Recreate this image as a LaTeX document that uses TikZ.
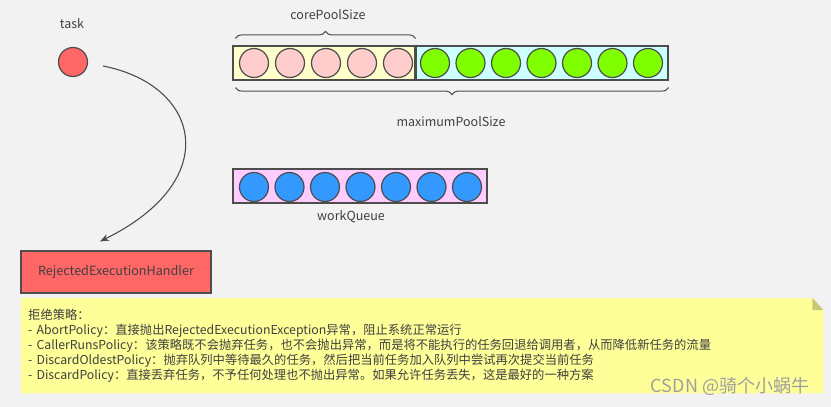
\documentclass[tikz,border=0pt]{standalone}
\usepackage{fontspec}
\setmainfont{Noto Sans CJK SC}
\usepackage{tikz}
\usetikzlibrary{arrows.meta,positioning,calc,decorations.pathreplacing,backgrounds}

\definecolor{bggray}{HTML}{F2F2F2}
\definecolor{linegray}{HTML}{4D4D4D}
\definecolor{textgray}{HTML}{404040}
\definecolor{taskred}{HTML}{FF6666}
\definecolor{coreyellow}{HTML}{FFFFCC}
\definecolor{corepink}{HTML}{FFCCCC}
\definecolor{maxcyan}{HTML}{CCFFFF}
\definecolor{maxgreen}{HTML}{80FF00}
\definecolor{queuepink}{HTML}{FFCCFF}
\definecolor{queueblue}{HTML}{3399FF}
\definecolor{noteyellow}{HTML}{FFFF99}
\definecolor{notefold}{HTML}{C8C87A}

\begin{document}
\begin{tikzpicture}[x=1pt, y=-1pt,
    every node/.style={text=textgray, font=\fontsize{12.5}{14}\selectfont},
    ball/.style={circle, draw=linegray, line width=1.2pt, minimum size=29pt, inner sep=0pt},
    pool/.style={rectangle, draw=linegray, line width=1.2pt, minimum height=34pt, inner sep=0pt},
    brace/.style={decorate, decoration={brace, amplitude=7pt}, draw=linegray, line width=1pt},
    handler/.style={rectangle, draw=linegray, line width=1.2pt, fill=taskred, minimum width=190pt, minimum height=42pt, font=\fontsize{12.6}{14}\selectfont},
    note/.style={rectangle, anchor=north west, minimum width=802pt, minimum height=95pt, inner xsep=7pt, text width=788pt, align=left, font=\fontsize{12.3}{15}\selectfont}]

    \useasboundingbox (0,0) rectangle (831,407);

    % Task and handler
    \node (tasklabel) at (72,24) {task};
    \node[ball, fill=taskred] (task) at (73,62) {};
    \node[handler] (handler) at (116,272) {RejectedExecutionHandler};

    % Thread pool
    \node[pool, fill=coreyellow, minimum width=182pt] (core) at (324,63) {};
    \node[pool, fill=maxcyan, minimum width=252pt] (max) at (542,63) {};

    \begin{scope}[node distance=36pt]
    \node[ball, fill=corepink] (c1) at (254,63) {};
    \node[ball, fill=corepink] (c2) [right of=c1] {};
    \node[ball, fill=corepink] (c3) [right of=c2] {};
    \node[ball, fill=corepink] (c4) [right of=c3] {};
    \node[ball, fill=corepink] (c5) [right of=c4] {};
    \end{scope}

    \begin{scope}[node distance=35.5pt]
    \node[ball, fill=maxgreen] (m1) at (435,63) {};
    \node[ball, fill=maxgreen] (m2) [right of=m1] {};
    \node[ball, fill=maxgreen] (m3) [right of=m2] {};
    \node[ball, fill=maxgreen] (m4) [right of=m3] {};
    \node[ball, fill=maxgreen] (m5) [right of=m4] {};
    \node[ball, fill=maxgreen] (m6) [right of=m5] {};
    \node[ball, fill=maxgreen] (m7) [right of=m6] {};
    \end{scope}

    % Braces
    \draw[brace] ([xshift=3pt,yshift=7pt]core.north west) -- ([yshift=7pt]core.north east);
    \node (coresize) at (328,15) {corePoolSize};
    \draw[brace] ([yshift=-7pt]max.south east) -- ([xshift=3pt,yshift=-7pt]core.south west);
    \node (maxsize) at (451,122) {maximumPoolSize};

    % Work queue
    \node[pool, fill=queuepink, minimum width=254pt] (queue) at (360,186) {};
    \begin{scope}[node distance=35.5pt]
    \node[ball, fill=queueblue] (q1) at (254,187) {};
    \node[ball, fill=queueblue] (q2) [right of=q1] {};
    \node[ball, fill=queueblue] (q3) [right of=q2] {};
    \node[ball, fill=queueblue] (q4) [right of=q3] {};
    \node[ball, fill=queueblue] (q5) [right of=q4] {};
    \node[ball, fill=queueblue] (q6) [right of=q5] {};
    \node[ball, fill=queueblue] (q7) [right of=q6] {};
    \end{scope}
    \node (queuelabel) at (351,217) {workQueue};

    % Rejection
    \draw[-{Stealth[length=9pt,width=7pt]}, draw=linegray, line width=1.1pt]
        ([xshift=15pt,yshift=-4pt]task.east) .. controls (200,85) and (225,180) .. ([xshift=-16pt,yshift=9pt]handler.north);

    % Policies
    \node[note] (policies) at (21,298) {拒绝策略：\\
    - AbortPolicy：直接抛出RejectedExecutionException异常，阻止系统正常运行\\
    - CallerRunsPolicy：该策略既不会抛弃任务，也不会抛出异常，而是将不能执行的任务回退给调用者，从而降低新任务的流量\\
    - DiscardOldestPolicy：抛弃队列中等待最久的任务，然后把当前任务加入队列中尝试再次提交当前任务\\
    - DiscardPolicy：直接丢弃任务，不予任何处理也不抛出异常。如果允许任务丢失，这是最好的一种方案};

    \node[text=gray!75, font=\fontsize{18}{20}\selectfont] (mark) at (730,386) {CSDN @骑个小蜗牛};

    \begin{scope}[on background layer]
    \fill[bggray] (0,0) rectangle (831,407);
    \fill[noteyellow] (policies.north west) -- ([xshift=-11pt]policies.north east) -- ([yshift=-12pt]policies.north east) -- (policies.south east) -- (policies.south west) -- cycle;
    \fill[notefold] ([xshift=-11pt]policies.north east) -- ([xshift=-11pt,yshift=-12pt]policies.north east) -- ([yshift=-12pt]policies.north east) -- cycle;
    \end{scope}

\end{tikzpicture}
\end{document}
